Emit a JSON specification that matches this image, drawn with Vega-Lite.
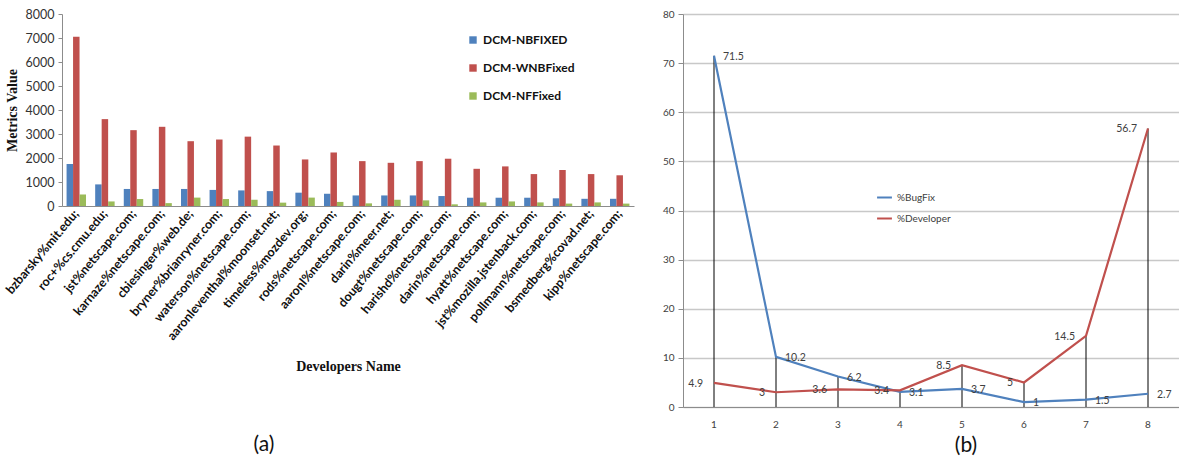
{
  "$schema": "https://vega.github.io/schema/vega-lite/v6.json",
  "background": "white",
  "padding": {"left": 3, "top": 8, "right": 0, "bottom": 0},
  "config": {
    "view": {"stroke": null},
    "concat": {"spacing": 28},
    "axis": {"domainColor": "#8c8c8c", "tickColor": "#8c8c8c", "labelFont": "Lato", "labelColor": "#333333"}
  },
  "resolve": {"scale": {"color": "independent"}, "legend": {"color": "independent"}},
  "hconcat": [
    {
      "width": 572,
      "height": 192,
      "title": {"text": "(a)", "orient": "bottom", "offset": 61, "dx": -84, "fontSize": 21, "font": "Lato", "fontWeight": "normal", "color": "#111111"},
      "data": {
        "values": [
          {"dev": "bzbarsky%mit.edu;", "DCM-NBFIXED": 1750, "DCM-WNBFixed": 7050, "DCM-NFFixed": 480},
          {"dev": "roc+%cs.cmu.edu;", "DCM-NBFIXED": 900, "DCM-WNBFixed": 3620, "DCM-NFFixed": 190},
          {"dev": "jst%netscape.com;", "DCM-NBFIXED": 710, "DCM-WNBFixed": 3160, "DCM-NFFixed": 290},
          {"dev": "karnaze%netscape.com;", "DCM-NBFIXED": 710, "DCM-WNBFixed": 3300, "DCM-NFFixed": 120},
          {"dev": "cbiesinger%web.de;", "DCM-NBFIXED": 710, "DCM-WNBFixed": 2700, "DCM-NFFixed": 350},
          {"dev": "bryner%brianryner.com;", "DCM-NBFIXED": 670, "DCM-WNBFixed": 2770, "DCM-NFFixed": 290},
          {"dev": "waterson%netscape.com;", "DCM-NBFIXED": 650, "DCM-WNBFixed": 2890, "DCM-NFFixed": 260},
          {"dev": "aaronleventhal%moonset.net;", "DCM-NBFIXED": 620, "DCM-WNBFixed": 2520, "DCM-NFFixed": 140},
          {"dev": "timeless%mozdev.org;", "DCM-NBFIXED": 555, "DCM-WNBFixed": 1940, "DCM-NFFixed": 350},
          {"dev": "rods%netscape.com;", "DCM-NBFIXED": 510, "DCM-WNBFixed": 2230, "DCM-NFFixed": 170},
          {"dev": "aaronl%netscape.com;", "DCM-NBFIXED": 440, "DCM-WNBFixed": 1870, "DCM-NFFixed": 110},
          {"dev": "darin%meer.net;", "DCM-NBFIXED": 440, "DCM-WNBFixed": 1800, "DCM-NFFixed": 260},
          {"dev": "dougt%netscape.com;", "DCM-NBFIXED": 440, "DCM-WNBFixed": 1870, "DCM-NFFixed": 235},
          {"dev": "harishd%netscape.com;", "DCM-NBFIXED": 415, "DCM-WNBFixed": 1970, "DCM-NFFixed": 70},
          {"dev": "darin%netscape.com;", "DCM-NBFIXED": 345, "DCM-WNBFixed": 1550, "DCM-NFFixed": 150},
          {"dev": "hyatt%netscape.com;", "DCM-NBFIXED": 345, "DCM-WNBFixed": 1650, "DCM-NFFixed": 190},
          {"dev": "jst%mozilla.jstenback.com;", "DCM-NBFIXED": 345, "DCM-WNBFixed": 1330, "DCM-NFFixed": 150},
          {"dev": "pollmann%netscape.com;", "DCM-NBFIXED": 320, "DCM-WNBFixed": 1500, "DCM-NFFixed": 100},
          {"dev": "bsmedberg%covad.net;", "DCM-NBFIXED": 300, "DCM-WNBFixed": 1330, "DCM-NFFixed": 150},
          {"dev": "kipp%netscape.com;", "DCM-NBFIXED": 300, "DCM-WNBFixed": 1280, "DCM-NFFixed": 100}
        ]
      },
      "transform": [{"fold": ["DCM-NBFIXED", "DCM-WNBFixed", "DCM-NFFixed"], "as": ["series", "value"]}],
      "mark": {"type": "bar"},
      "encoding": {
        "x": {
          "field": "dev", "type": "nominal", "sort": null,
          "scale": {"paddingInner": 0.32, "paddingOuter": 0.16},
          "axis": {
            "labelAngle": -50, "labelFontSize": 12.5, "labelFontWeight": "bold", "labelColor": "#111111",
            "ticks": false, "labelPadding": 5,
            "title": "Developers Name", "titleFont": "Liberation Serif", "titleFontSize": 14, "titleFontWeight": "bold", "titleColor": "#111111", "titlePadding": 17
          }
        },
        "xOffset": {"field": "series", "type": "nominal", "sort": ["DCM-NBFIXED", "DCM-WNBFixed", "DCM-NFFixed"], "scale": {"paddingInner": 0}},
        "y": {
          "field": "value", "type": "quantitative",
          "scale": {"domain": [0, 8000]},
          "axis": {
            "values": [0, 1000, 2000, 3000, 4000, 5000, 6000, 7000, 8000], "format": "d", "grid": false,
            "labelFontSize": 12.5, "tickSize": 4, "labelPadding": 4,
            "title": "Metrics Value", "titleFont": "Liberation Serif", "titleFontSize": 14, "titleFontWeight": "bold", "titleColor": "#111111", "titlePadding": 6
          }
        },
        "color": {
          "field": "series", "type": "nominal",
          "scale": {"domain": ["DCM-NBFIXED", "DCM-WNBFixed", "DCM-NFFixed"], "range": ["#4F81BD", "#C0504D", "#9BBB59"]},
          "legend": {
            "title": null, "orient": "none", "legendX": 405, "legendY": 20,
            "symbolType": "square", "symbolSize": 55, "symbolStrokeWidth": 0,
            "labelFont": "Lato", "labelFontSize": 12, "labelFontWeight": "bold", "labelColor": "#111111",
            "rowPadding": 16, "labelOffset": 4
          }
        }
      }
    },
    {
      "width": 496,
      "height": 393,
      "title": {"text": "(b)", "orient": "bottom", "offset": 6, "dx": 35, "fontSize": 21, "font": "Lato", "fontWeight": "normal", "color": "#111111"},
      "data": {
        "values": [
          {"x": "1", "series": "%BugFix", "value": 71.5},
          {"x": "2", "series": "%BugFix", "value": 10.2},
          {"x": "3", "series": "%BugFix", "value": 6.2},
          {"x": "4", "series": "%BugFix", "value": 3.1},
          {"x": "5", "series": "%BugFix", "value": 3.7},
          {"x": "6", "series": "%BugFix", "value": 1},
          {"x": "7", "series": "%BugFix", "value": 1.5},
          {"x": "8", "series": "%BugFix", "value": 2.7},
          {"x": "1", "series": "%Developer", "value": 4.9},
          {"x": "2", "series": "%Developer", "value": 3},
          {"x": "3", "series": "%Developer", "value": 3.6},
          {"x": "4", "series": "%Developer", "value": 3.4},
          {"x": "5", "series": "%Developer", "value": 8.5},
          {"x": "6", "series": "%Developer", "value": 5},
          {"x": "7", "series": "%Developer", "value": 14.5},
          {"x": "8", "series": "%Developer", "value": 56.7}
        ]
      },
      "encoding": {
        "x": {
          "field": "x", "type": "ordinal",
          "axis": {"labelAngle": 0, "labelFontSize": 10, "labelColor": "#404040", "labelPadding": 12, "ticks": false, "title": null}
        },
        "y": {
          "field": "value", "type": "quantitative",
          "scale": {"domain": [0, 80]},
          "axis": {
            "values": [0, 10, 20, 30, 40, 50, 60, 70, 80], "grid": true, "gridColor": "#c8c8c8", "gridWidth": 1.5,
            "labelFontSize": 10, "labelColor": "#404040", "tickSize": 5, "labelPadding": 4, "title": null
          }
        }
      },
      "layer": [
        {
          "mark": {"type": "rule", "color": "#000000", "strokeWidth": 1},
          "encoding": {
            "y": {"field": "value", "type": "quantitative", "aggregate": "max"},
            "y2": {"datum": 0}
          }
        },
        {
          "mark": {"type": "line", "strokeWidth": 2.2},
          "encoding": {
            "color": {
              "field": "series", "type": "nominal",
              "scale": {"domain": ["%BugFix", "%Developer"], "range": ["#4F81BD", "#C0504D"]},
              "legend": {
                "title": null, "orient": "none", "legendX": 193, "legendY": 175,
                "symbolType": "stroke", "symbolStrokeWidth": 2, "symbolSize": 220,
                "labelFont": "Lato", "labelFontSize": 10, "labelColor": "#404040", "rowPadding": 7
              }
            }
          }
        },
        {
          "transform": [{"filter": "datum.series === '%BugFix'"}],
          "mark": {"type": "text", "align": "left", "baseline": "middle", "dx": 9, "dy": 1, "font": "Lato", "fontSize": 10.5, "color": "#404040"},
          "encoding": {"text": {"field": "value", "type": "quantitative"}}
        },
        {
          "transform": [{"filter": "datum.series === '%Developer'"}],
          "mark": {"type": "text", "align": "right", "baseline": "middle", "dx": -11, "dy": 1, "font": "Lato", "fontSize": 10.5, "color": "#404040"},
          "encoding": {"text": {"field": "value", "type": "quantitative"}}
        }
      ]
    }
  ]
}
